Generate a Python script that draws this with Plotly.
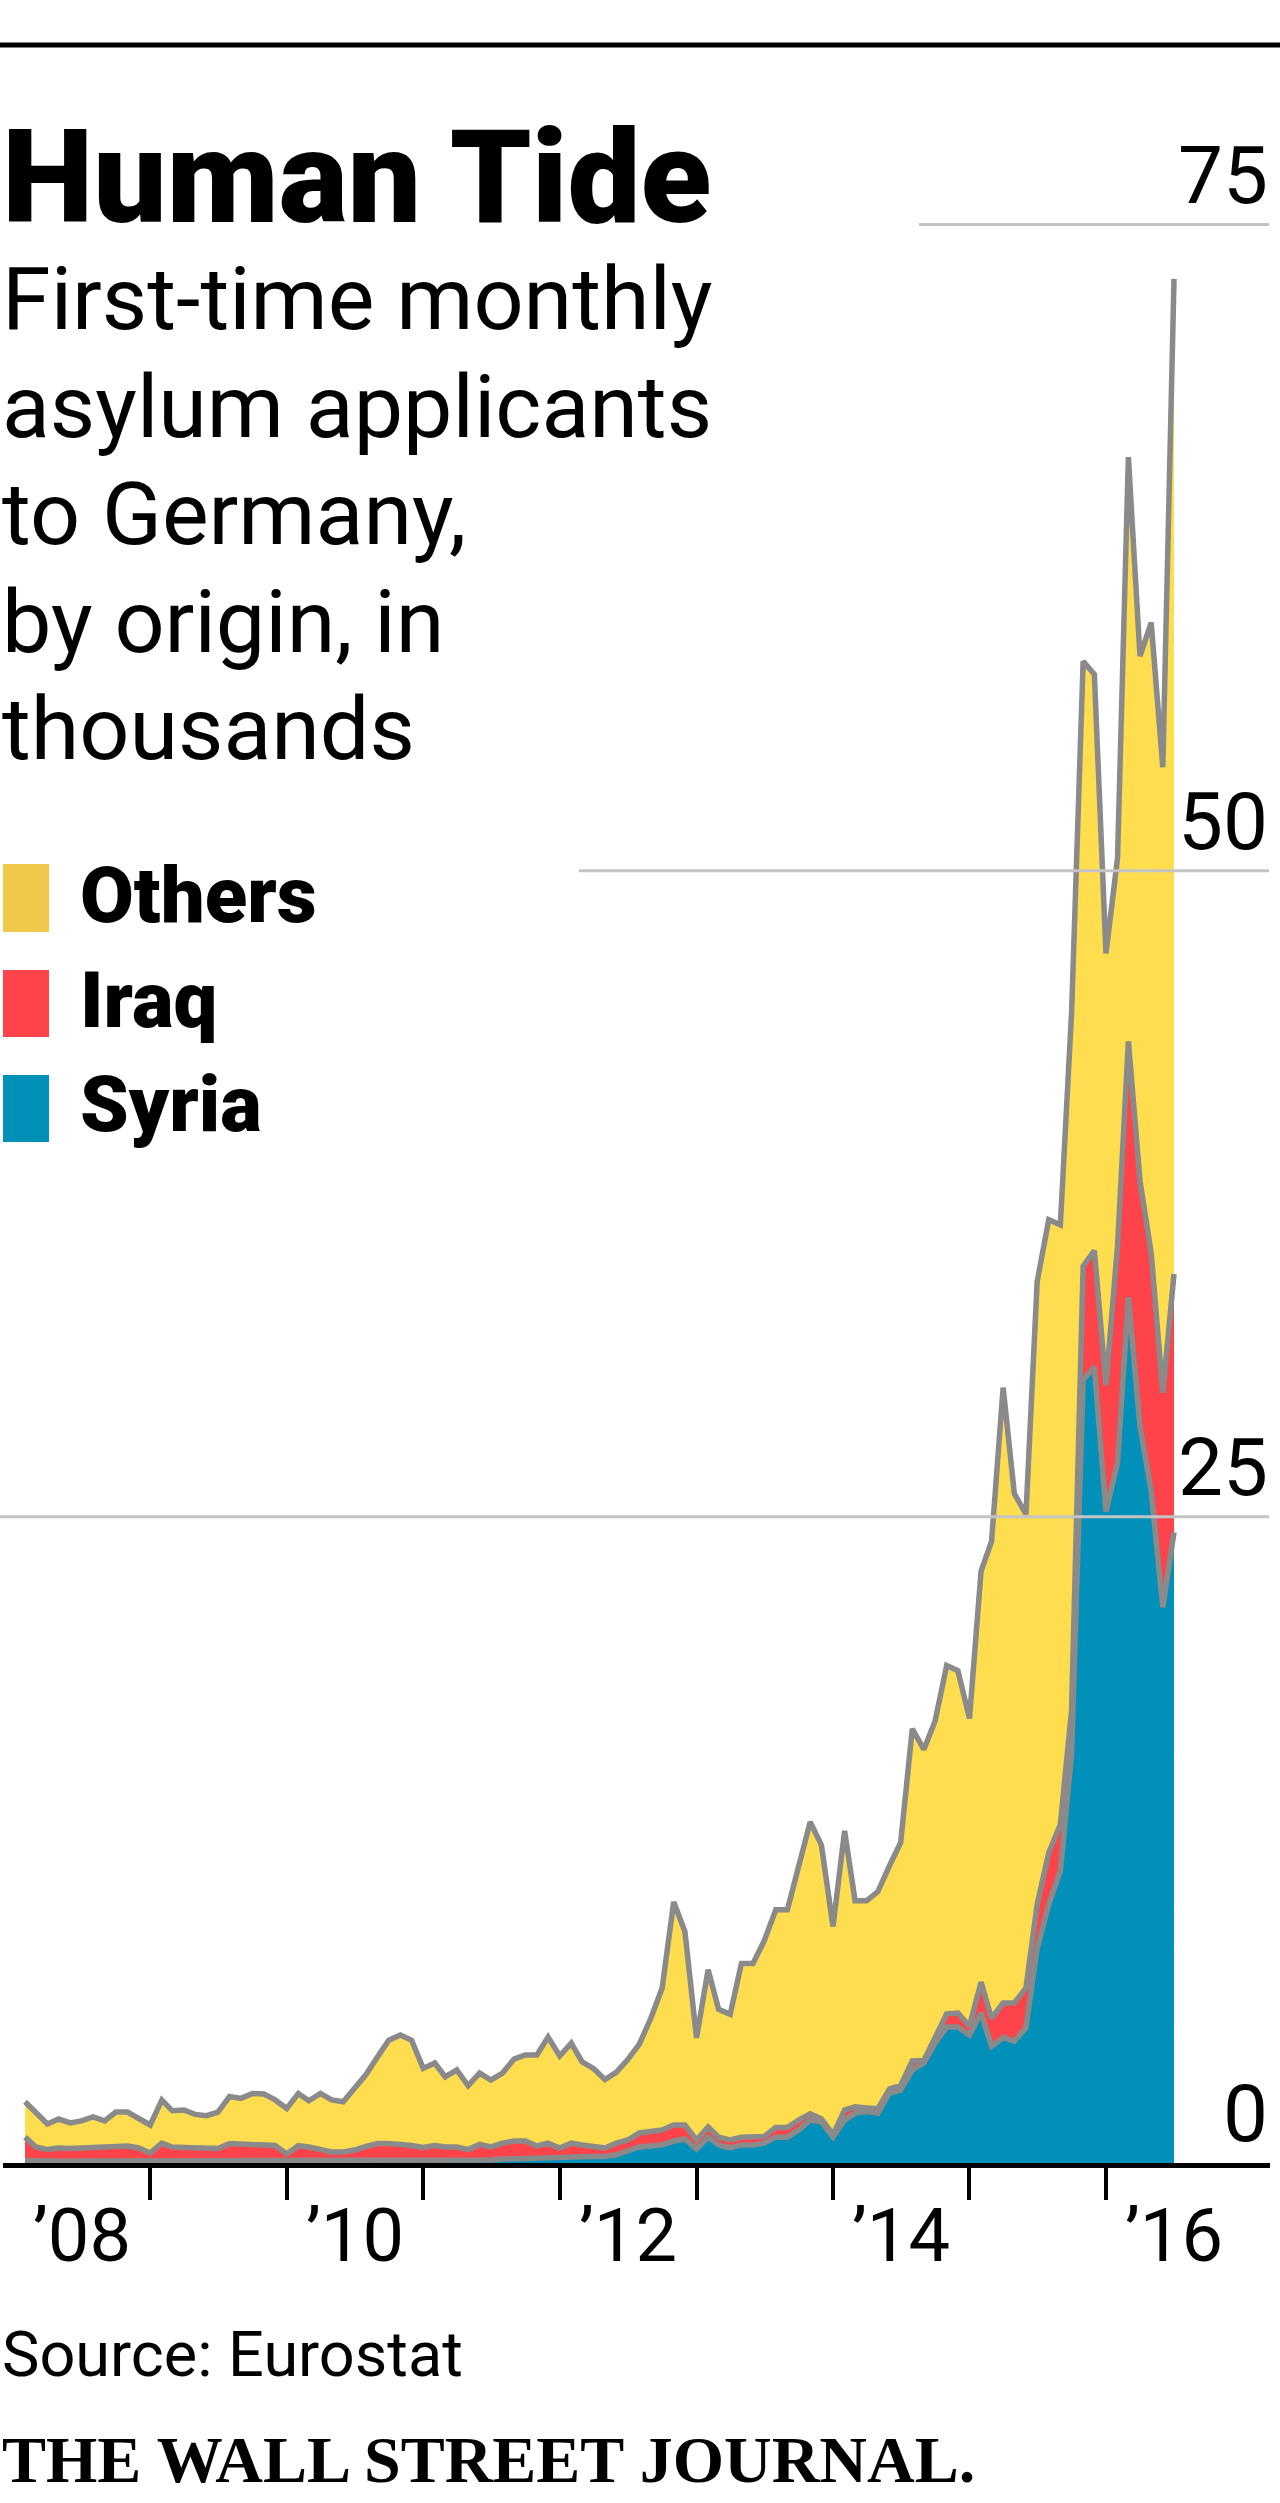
import plotly.graph_objects as go
import pandas as pd

# ---------------- data (thousands of first-time applicants per month) ----------------
months = pd.date_range("2008-01-01", "2016-06-01", freq="MS").strftime("%Y-%m").tolist()

syria = [
    0.10, 0.08, 0.07, 0.08, 0.07, 0.08, 0.08, 0.08, 0.09, 0.08, 0.08, 0.07,   # 2008
    0.08, 0.08, 0.07, 0.08, 0.07, 0.07, 0.08, 0.09, 0.08, 0.08, 0.08, 0.07,   # 2009
    0.09, 0.08, 0.08, 0.07, 0.08, 0.08, 0.09, 0.09, 0.10, 0.10, 0.10, 0.09,   # 2010
    0.10, 0.10, 0.11, 0.11, 0.12, 0.12, 0.15, 0.17, 0.18, 0.18, 0.20, 0.20,   # 2011
    0.22, 0.24, 0.25, 0.25, 0.32, 0.46, 0.62, 0.66, 0.70, 0.85, 0.93, 0.54,   # 2012
    1.00, 0.70, 0.58, 0.70, 0.70, 0.77, 1.00, 1.00, 1.28, 1.66, 1.58, 1.00,   # 2013
    1.66, 1.93, 2.00, 1.93, 2.71, 2.82, 3.60, 3.87, 4.64, 5.26, 5.26, 4.95,   # 2014
    5.80, 4.52, 4.85, 4.72, 5.23, 8.30, 10.0, 11.3, 15.8, 30.3, 30.8, 25.2,   # 2015
    27.1, 33.5, 28.5, 26.0, 21.5, 24.4,                                       # 2016
]
iraq = [
    0.90, 0.54, 0.45, 0.50, 0.49, 0.50, 0.54, 0.54, 0.57, 0.58, 0.50, 0.32,
    0.69, 0.54, 0.53, 0.50, 0.49, 0.49, 0.67, 0.63, 0.62, 0.62, 0.60, 0.28,
    0.58, 0.54, 0.42, 0.36, 0.35, 0.42, 0.55, 0.66, 0.65, 0.62, 0.58, 0.51,
    0.58, 0.52, 0.51, 0.41, 0.60, 0.50, 0.62, 0.68, 0.67, 0.48, 0.57, 0.38,
    0.55, 0.46, 0.37, 0.33, 0.45, 0.43, 0.54, 0.54, 0.58, 0.62, 0.54, 0.35,
    0.39, 0.30, 0.31, 0.30, 0.30, 0.26, 0.37, 0.37, 0.38, 0.24, 0.12, 0.10,
    0.39, 0.24, 0.13, 0.17, 0.15, 0.18, 0.35, 0.10, 0.21, 0.51, 0.54, 0.35,
    1.20, 1.08, 1.34, 1.47, 1.54, 1.70, 2.00, 1.80, 1.70, 4.40, 4.50, 4.90,
    8.40, 9.90, 9.50, 9.20, 8.30, 10.0,
]
others = [
    1.37, 1.31, 0.99, 1.12, 0.99, 1.05, 1.16, 1.01, 1.31, 1.31, 1.16, 1.08,
    1.67, 1.40, 1.45, 1.30, 1.27, 1.41, 1.82, 1.78, 1.99, 1.97, 1.76, 1.76,
    2.02, 1.79, 2.19, 2.01, 1.94, 2.41, 2.78, 3.36, 4.00, 4.23, 4.07, 3.06,
    3.19, 2.71, 2.98, 2.47, 2.76, 2.59, 2.71, 3.17, 3.33, 3.52, 4.10, 3.56,
    3.87, 3.21, 3.03, 2.65, 2.75, 3.11, 3.44, 4.41, 5.49, 8.63, 7.48, 3.95,
    6.09, 4.95, 4.86, 6.72, 6.72, 7.57, 8.43, 8.43, 9.74, 11.30, 10.60, 8.05,
    10.80, 7.98, 8.02, 8.40, 8.64, 9.40, 12.85, 12.03, 12.25, 13.48, 13.25, 11.90,
    15.90, 18.45, 23.81, 19.71, 18.33, 24.10, 24.50, 23.20, 27.00, 23.40, 22.30, 16.70,
    15.00, 22.60, 20.30, 24.40, 24.20, 38.50,
]

series_names = ["Syria", "Iraq", "Others"]
y_ticks = [0, 25, 50, 75]
y_tick_labels = ["0", "25", "50", "75"]
year_tick_dates = ["2009-01-01", "2010-01-01", "2011-01-01", "2012-01-01",
                   "2013-01-01", "2014-01-01", "2015-01-01", "2016-01-01"]
year_label_years = [2008, 2010, 2012, 2014, 2016]
year_labels = ["\u201908", "\u201910", "\u201912", "\u201914", "\u201916"]

title = "Human Tide"
subtitle_lines = ["First-time monthly", "asylum applicants", "to Germany,",
                  "by origin, in", "thousands"]
source = "Source: Eurostat"
brand = "THE WALL STREET JOURNAL."

# ---------------- styling ----------------
FILL = {"Syria": "#0090b9", "Iraq": "#ff434a", "Others": "#fedd4e"}
SWATCH = {"Syria": "#0090b8", "Iraq": "#ff434a", "Others": "#f0c94a"}
LINE = "#8a8a8a"
GRID = "#c4c4c4"
SANS = "Roboto, 'Liberation Sans', sans-serif"
SERIF = "'Liberation Serif', 'DejaVu Serif', serif"

W, H = 1280, 2503
ML, MR, MT, MB = 3, 10, 147, 340
PW, PH = W - ML - MR, H - MT - MB
DESC = 0.244  # roboto descent (em)


def px(x):
    return (x - ML) / PW


def py(y):
    return (H - MB - y) / PH


jan08 = pd.Timestamp("2008-01-01")
YEAR_PX = 136.57
JAN08_PX = 13.4


def xdate(p):
    return (jan08 + pd.Timedelta(days=(p - JAN08_PX) / YEAR_PX * 365.25)).strftime("%Y-%m-%d %H:%M")


fig = go.Figure()
values = {"Syria": syria, "Iraq": iraq, "Others": others}
for name in series_names:
    fig.add_trace(go.Scatter(
        x=months, y=values[name], name=name, stackgroup="one", mode="lines",
        xperiod="M1", xperiodalignment="end",
        line=dict(color=LINE, width=5.5), fillcolor=FILL[name],
        showlegend=False, hoverinfo="skip",
    ))

shapes = []
annotations = []

# top rule
shapes.append(dict(type="line", xref="paper", yref="paper", x0=px(0), x1=px(W),
                   y0=py(45), y1=py(45), line=dict(color="black", width=5)))

# gridlines (shortened ones at 50 and 75 as in the original)
grid_start = {25: 0, 50: 579, 75: 919}
for t in y_ticks:
    if t in grid_start:
        shapes.append(dict(type="line", xref="paper", yref="y", x0=px(grid_start[t]), x1=px(1269),
                           y0=t, y1=t, line=dict(color=GRID, width=3), layer="above"))
for t, lab in zip(y_ticks, y_tick_labels):
    fs = 80
    annotations.append(dict(text=lab, xref="paper", yref="y", x=px(1270), y=t,
                            xanchor="right", yanchor="bottom", yshift=0, showarrow=False,
                            font=dict(family=SANS, size=fs, color="black")))

# x labels centred in each labelled year
for yr, lab in zip(year_label_years, year_labels):
    fs = 74
    annotations.append(dict(text=lab, xref="x", yref="paper", x=f"{yr}-07-02", y=py(2262 + 1 + DESC * fs),
                            xanchor="center", yanchor="bottom", showarrow=False,
                            font=dict(family=SANS, size=fs, color="black")))

# title
fs = 130
annotations.append(dict(text=title, xref="paper", yref="paper", x=px(0), y=py(223 + 1 + DESC * fs),
                        xanchor="left", yanchor="bottom", showarrow=False,
                        font=dict(family=SANS, size=fs, color="black", weight=900)))
# subtitle
fs = 88
for k, line in enumerate(subtitle_lines):
    base = 330 + k * 107.5
    annotations.append(dict(text=line, xref="paper", yref="paper", x=px(0), y=py(base + 1 + DESC * fs),
                            xanchor="left", yanchor="bottom", showarrow=False,
                            font=dict(family=SANS, size=fs, color="black")))

# legend (custom swatches)
legend_rows = [("Others", 864, 932, 923), ("Iraq", 970, 1037, 1028), ("Syria", 1075, 1142, 1132)]
fs = 78
for name, top, bot, base in legend_rows:
    shapes.append(dict(type="rect", xref="paper", yref="paper", x0=px(3), x1=px(49),
                       y0=py(bot), y1=py(top), fillcolor=SWATCH[name], line=dict(width=0)))
    annotations.append(dict(text=name, xref="paper", yref="paper", x=px(78), y=py(base + 1 + DESC * fs),
                            xanchor="left", yanchor="bottom", showarrow=False,
                            font=dict(family=SANS, size=fs, color="black", weight=900)))

# footer
fs = 63
annotations.append(dict(text=source, xref="paper", yref="paper", x=px(0), y=py(2377 + 1 + DESC * fs),
                        xanchor="left", yanchor="bottom", showarrow=False,
                        font=dict(family=SANS, size=fs, color="black")))
fs = 66
annotations.append(dict(text=brand, xref="paper", yref="paper", x=px(0), y=py(2483 + 1 + 0.216 * fs),
                        xanchor="left", yanchor="bottom", showarrow=False,
                        font=dict(family=SERIF, size=fs, color="black", weight=700)))

fig.update_layout(
    width=W, height=H, margin=dict(l=ML, r=MR, t=MT, b=MB, pad=0),
    paper_bgcolor="white", plot_bgcolor="white", showlegend=False,
    shapes=shapes, annotations=annotations,
    xaxis=dict(type="date", range=[xdate(ML), xdate(W - MR)], tickmode="array",
               tickvals=year_tick_dates, showticklabels=False, ticks="outside",
               ticklen=32, tickwidth=4, tickcolor="black", showgrid=False, zeroline=False,
               showline=True, linecolor="black", linewidth=5, fixedrange=True),
    yaxis=dict(range=[0, 78], showgrid=False, zeroline=False, showticklabels=False,
               showline=False, fixedrange=True),
)

fig.write_html("out.html")
